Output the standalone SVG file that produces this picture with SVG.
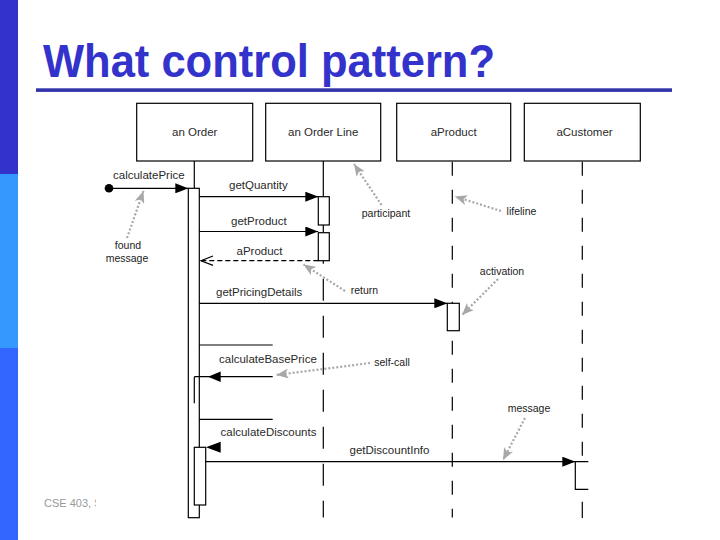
<svg xmlns="http://www.w3.org/2000/svg" width="720" height="540" viewBox="0 0 720 540">
<defs>
<style>
.t{font-family:"Liberation Sans",Arial,sans-serif;font-size:11.5px;fill:#2a2a2a}
.box{fill:#fff;stroke:#000;stroke-width:1.2}
.ll{stroke:#000;stroke-width:1.2;fill:none}
.msg{stroke:#000;stroke-width:1.2;fill:none}
.ann{stroke:#a8a8a8;stroke-width:2.2;stroke-dasharray:2,2;fill:none}
.at{font-family:"Liberation Sans",Arial,sans-serif;font-size:10.5px;fill:#222}
</style>
<marker id="ah" markerWidth="13" markerHeight="10" refX="13" refY="5" orient="auto" markerUnits="userSpaceOnUse"><path d="M0,0 L13,5 L0,10 z" fill="#000"/></marker>
<marker id="ga" markerWidth="12" markerHeight="10" refX="12" refY="5" orient="auto" markerUnits="userSpaceOnUse"><path d="M0,0 L12,5 L0,10 L3,5 z" fill="#a8a8a8"/></marker>
<clipPath id="fc"><rect x="0" y="480" width="96" height="40"/></clipPath>
</defs>
<rect width="720" height="540" fill="#fff"/>
<rect x="0" y="0" width="18" height="174" fill="#3333cc"/>
<rect x="0" y="174" width="18" height="174" fill="#3399ff"/>
<rect x="0" y="348" width="18" height="192" fill="#3366ff"/>
<text x="43" y="76.5" font-family="Liberation Sans,Arial,sans-serif" font-weight="bold" font-size="46" fill="#3333cc" textLength="452" lengthAdjust="spacingAndGlyphs">What control pattern?</text>
<rect x="36" y="88.3" width="636" height="3.6" fill="#3333aa"/>
<text x="44" y="506.5" clip-path="url(#fc)" font-family="Liberation Sans,Arial,sans-serif" font-size="11" fill="#999">CSE 403, Spring</text>

<g id="anOrder">
<rect class="box" x="136.7" y="103.3" width="116" height="57.7"/>
<text class="t" x="194.7" y="136" text-anchor="middle">an Order</text>
<line class="ll" x1="194.3" y1="161" x2="194.3" y2="188.3"/>
<rect class="box" x="188.3" y="188.3" width="11" height="329.4"/>
<path class="ll" d="M194.3,376.7 V403.3"/>
<rect class="box" x="194.3" y="447.3" width="11.4" height="57.7"/>
</g>
<g id="anOrderLine">
<rect class="box" x="265.7" y="103.3" width="115" height="57.7"/>
<text class="t" x="323.2" y="136" text-anchor="middle">an Order Line</text>
<line class="ll" x1="323.3" y1="161" x2="323.3" y2="196.7"/>
<line class="ll" x1="323.3" y1="225" x2="323.3" y2="232.7"/>
<line class="ll" x1="323.3" y1="260.7" x2="323.3" y2="517.5" stroke-dasharray="22,15" stroke-dashoffset="-18"/>
<rect class="box" x="318.3" y="196.7" width="11" height="28.3"/>
<rect class="box" x="318.3" y="232.7" width="11" height="28"/>
</g>
<g id="aProduct">
<rect class="box" x="396.7" y="103.3" width="114" height="57.7"/>
<text class="t" x="453.7" y="136" text-anchor="middle">aProduct</text>
<line class="ll" x1="452.3" y1="161.7" x2="452.3" y2="303.3" stroke-dasharray="14,14"/>
<line class="ll" x1="452.3" y1="330.7" x2="452.3" y2="517.5" stroke-dasharray="14,14" stroke-dashoffset="-10"/>
<rect class="box" x="447.3" y="303.3" width="12" height="27.4"/>
</g>
<g id="aCustomer">
<rect class="box" x="524.3" y="103.3" width="116" height="57.7"/>
<text class="t" x="584.5" y="136" text-anchor="middle">aCustomer</text>
<line class="ll" x1="582.3" y1="161.7" x2="582.3" y2="461.7" stroke-dasharray="14,14"/>
<line class="ll" x1="582.3" y1="501.7" x2="582.3" y2="518"/>
<path class="ll" d="M588.3,461.7 H575.3 V489.3 H588.3"/>
</g>

<g id="connectors">
<circle cx="109" cy="188.3" r="4.3" fill="#000"/>
<line class="msg" x1="109" y1="188.3" x2="188.3" y2="188.3" marker-end="url(#ah)"/>
<text class="t" x="113" y="179">calculatePrice</text>
<line class="msg" x1="199.3" y1="196.7" x2="318.3" y2="196.7" marker-end="url(#ah)"/>
<text class="t" x="229" y="189">getQuantity</text>
<line class="msg" x1="199.3" y1="231.5" x2="318.3" y2="231.5" marker-end="url(#ah)"/>
<text class="t" x="231" y="225">getProduct</text>
<line class="msg" x1="318.3" y1="260.7" x2="201" y2="260.7" stroke-dasharray="5,3"/>
<path class="msg" d="M213,256 L201,260.7 L213,265.4"/>
<text class="t" x="236.5" y="255">aProduct</text>
<line class="msg" x1="199.3" y1="303.3" x2="447.3" y2="303.3" marker-end="url(#ah)"/>
<text class="t" x="216" y="296">getPricingDetails</text>
<path class="msg" d="M199.3,345 H272.7"/>
<path class="msg" d="M272.7,376.7 H194.3"/>
<polygon points="208,376.7 220.7,371.5 220.7,381.9" fill="#000"/>
<text class="t" x="219" y="362.5">calculateBasePrice</text>
<path class="msg" d="M199.3,419.3 H272.7"/>
<polygon points="206,447.3 220.7,441.8 220.7,452.8" fill="#000"/>
<text class="t" x="220.5" y="436">calculateDiscounts</text>
<line class="msg" x1="205.7" y1="461.7" x2="575.3" y2="461.7" marker-end="url(#ah)"/>
<text class="t" x="349.5" y="453.5">getDiscountInfo</text>
</g>

<g id="annotations">
<line class="ann" x1="127" y1="238" x2="143.5" y2="191" marker-end="url(#ga)"/>
<text class="at" x="128" y="249" text-anchor="middle">found</text>
<text class="at" x="127" y="261.5" text-anchor="middle">message</text>
<line class="ann" x1="381.5" y1="205" x2="354" y2="164" marker-end="url(#ga)"/>
<text class="at" x="386" y="216.5" text-anchor="middle">participant</text>
<line class="ann" x1="501" y1="211" x2="455" y2="196.5" marker-end="url(#ga)"/>
<text class="at" x="521.5" y="214.5" text-anchor="middle">lifeline</text>
<text class="at" x="502" y="274.5" text-anchor="middle">activation</text>
<line class="ann" x1="498" y1="279" x2="462" y2="315" marker-end="url(#ga)"/>
<line class="ann" x1="345" y1="291" x2="303.5" y2="264.5" marker-end="url(#ga)"/>
<text class="at" x="364.5" y="294" text-anchor="middle">return</text>
<line class="ann" x1="370" y1="363" x2="276.5" y2="375" marker-end="url(#ga)"/>
<text class="at" x="392" y="366" text-anchor="middle">self-call</text>
<text class="at" x="529" y="411.5" text-anchor="middle">message</text>
<line class="ann" x1="525" y1="418" x2="503" y2="460" marker-end="url(#ga)"/>
</g>
</svg>
